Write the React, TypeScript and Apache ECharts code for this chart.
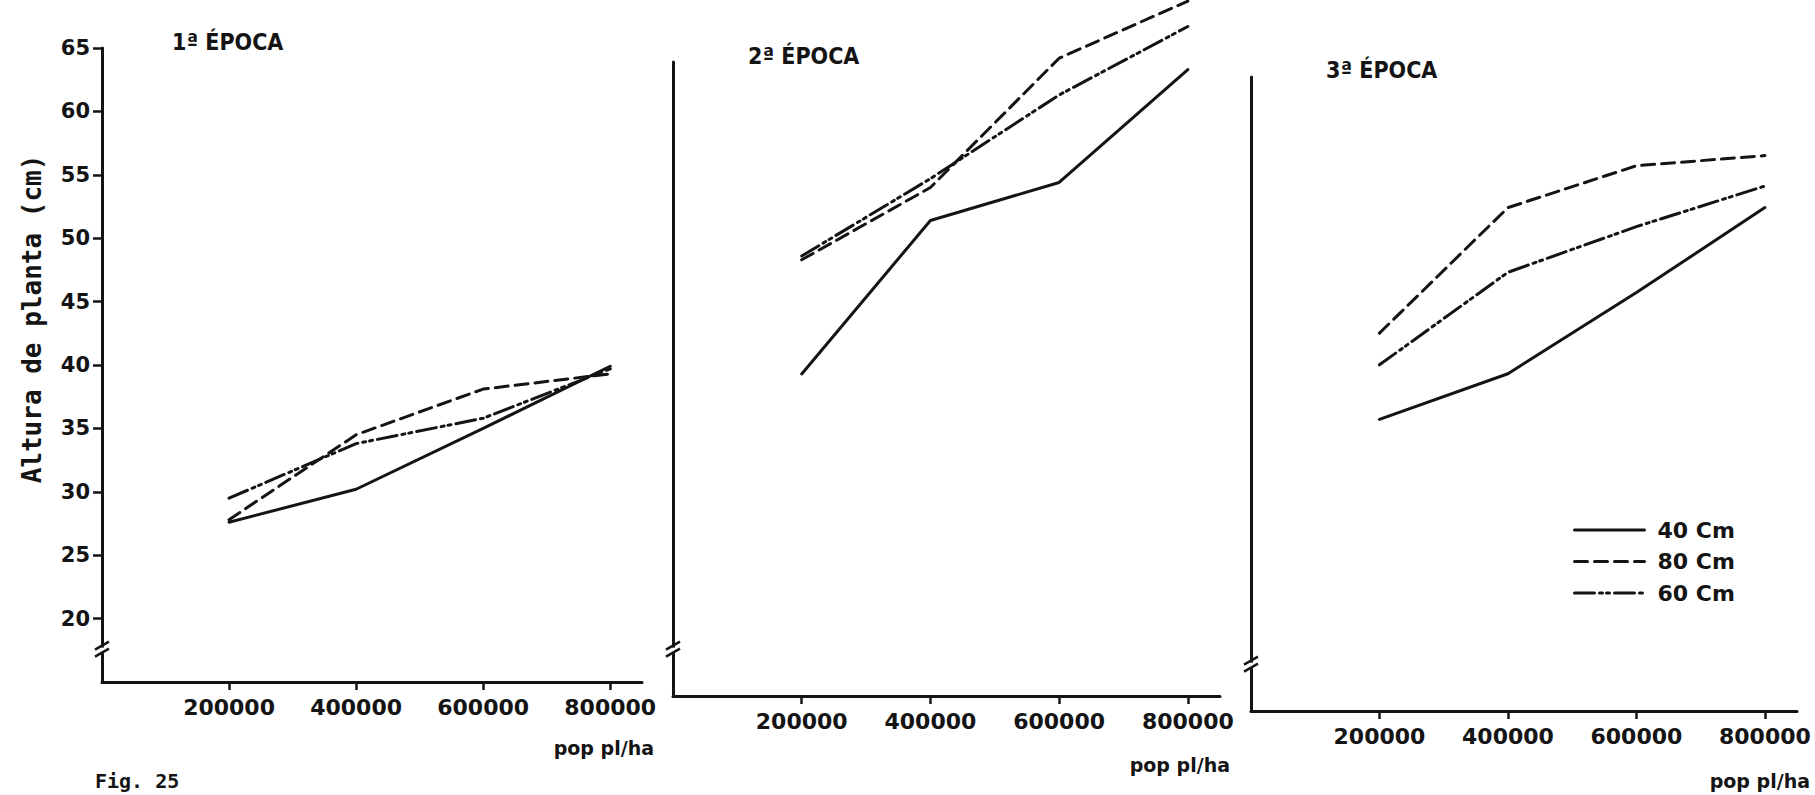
import React, { useEffect, useRef } from 'react';
import * as echarts from 'echarts';

// ---- data ----
const popDensity = [200000, 400000, 600000, 800000];
const xTickValues = [200000, 400000, 600000, 800000];
const yTickValues = [20, 25, 30, 35, 40, 45, 50, 55, 60, 65];
const seriesNames = ['40 Cm', '80 Cm', '60 Cm'];
const panelTitles = ['1ª ÉPOCA', '2ª ÉPOCA', '3ª ÉPOCA'];
const yAxisTitle = 'Altura de planta (cm)';
const xAxisTitle = 'pop pl/ha';
const figureLabel = 'Fig. 25';

// Época 1
const epoca1_40cm = [27.6, 30.2, 35.0, 39.9];
const epoca1_80cm = [27.8, 34.5, 38.1, 39.3];
const epoca1_60cm = [29.5, 33.8, 35.8, 39.7];
// Época 2
const epoca2_40cm = [40.4, 52.5, 55.5, 64.4];
const epoca2_80cm = [49.4, 55.1, 65.3, 69.8];
const epoca2_60cm = [49.7, 55.8, 62.4, 67.8];
// Época 3
const epoca3_40cm = [38.0, 41.6, 48.0, 54.7];
const epoca3_80cm = [44.8, 54.7, 58.0, 58.8];
const epoca3_60cm = [42.3, 49.6, 53.2, 56.4];

const panels = [
  [epoca1_40cm, epoca1_80cm, epoca1_60cm],
  [epoca2_40cm, epoca2_80cm, epoca2_60cm],
  [epoca3_40cm, epoca3_80cm, epoca3_60cm],
];

// ---- layout / style ----
const INK = '#141414';
const FONT = "'DejaVu Sans', 'Liberation Sans', sans-serif";
const TITLE_FONT = "'DejaVu Sans Condensed', 'DejaVu Sans', sans-serif";
const grids = [
  { left: 102, top: 48, width: 540, height: 634 },
  { left: 673, top: 62, width: 547, height: 634 },
  { left: 1251, top: 77, width: 546, height: 634 },
];
const titlePos = [
  { left: 172, top: 30 },
  { left: 748, top: 44 },
  { left: 1326, top: 58 },
];
const popLabelPos = [
  { x: 654, y: 748 },
  { x: 1230, y: 765 },
  { x: 1810, y: 781 },
];
const breakValues = [17.4, 18.5, 18.5];
const lineTypes: any[] = ['solid', [13, 7], [20, 5, 3, 4, 3, 5]];

export default function App() {
  const ref = useRef<HTMLDivElement>(null);

  useEffect(() => {
    if (!ref.current) return;
    const chart = echarts.init(ref.current, undefined, { renderer: 'svg' });

    const xAxes = grids.map((_, i) => ({
      type: 'value',
      gridIndex: i,
      min: 0,
      max: 850000,
      interval: 200000,
      axisLine: { show: true, onZero: false, lineStyle: { color: INK, width: 3 } },
      axisTick: {
        show: true,
        customValues: xTickValues,
        length: 8,
        lineStyle: { color: INK, width: 2.5 },
      },
      axisLabel: {
        customValues: xTickValues,
        margin: 14,
        color: INK,
        fontSize: 22,
        fontWeight: 'bold',
        fontFamily: FONT,
        formatter: (v: number) => (xTickValues.includes(v) ? String(v) : ''),
      },
      splitLine: { show: false },
    }));

    const yAxes = grids.map((_, i) => ({
      type: 'value',
      gridIndex: i,
      min: 15,
      max: 65,
      interval: 5,
      axisLine: { show: true, onZero: false, lineStyle: { color: INK, width: 3 } },
      axisTick: {
        show: i === 0,
        customValues: yTickValues,
        length: 9,
        lineStyle: { color: INK, width: 2.5 },
      },
      axisLabel: {
        show: i === 0,
        customValues: yTickValues,
        margin: 12,
        color: INK,
        fontSize: 21,
        fontWeight: 'bold',
        fontFamily: FONT,
        formatter: (v: number) => (yTickValues.includes(v) ? String(v) : ''),
      },
      splitLine: { show: false },
    }));

    const series: any[] = [];
    panels.forEach((vals, i) => {
      vals.forEach((arr, k) => {
        series.push({
          type: 'line',
          name: seriesNames[k],
          xAxisIndex: i,
          yAxisIndex: i,
          data: popDensity.map((x, j) => [x, arr[j]]),
          symbol: 'none',
          clip: false,
          silent: true,
          lineStyle: { color: INK, width: 3, type: lineTypes[k], cap: 'round' },
          itemStyle: { color: INK },
        });
      });
    });

    chart.setOption({
      animation: false,
      backgroundColor: '#ffffff',
      grid: grids.map((g) => ({ ...g, containLabel: false })),
      xAxis: xAxes,
      yAxis: yAxes,
      title: panelTitles.map((t, i) => ({
        text: t,
        left: titlePos[i].left,
        top: titlePos[i].top,
        padding: 0,
        textStyle: { color: INK, fontSize: 23, fontWeight: 'bold', fontFamily: TITLE_FONT },
      })),
      legend: {
        orient: 'vertical',
        left: 1573,
        top: 519,
        padding: 0,
        itemWidth: 70,
        itemHeight: 22,
        itemGap: 9.5,
        data: seriesNames,
        selectedMode: false,
        itemStyle: { opacity: 0, borderWidth: 0 },
        lineStyle: { width: 3, color: INK },
        textStyle: {
          color: INK,
          fontSize: 22,
          fontWeight: 'bold',
          fontFamily: FONT,
          padding: [0, 0, 0, 8],
          lineHeight: 22,
        },
      },
      series,
    });

    const graphic: any[] = [];
    // y axis title
    graphic.push({
      type: 'text',
      x: 32,
      y: 319,
      rotation: Math.PI / 2,
      style: {
        text: yAxisTitle,
        x: 0,
        y: 0,
        align: 'center',
        verticalAlign: 'middle',
        textAlign: 'center',
        textVerticalAlign: 'middle',
        font: "bold 26px 'DejaVu Sans Mono', monospace",
        fill: INK,
      },
    });
    // x axis names
    popLabelPos.forEach((p) => {
      graphic.push({
        type: 'text',
        x: p.x,
        y: p.y,
        style: {
          text: xAxisTitle,
          x: 0,
          y: 0,
          align: 'right',
          verticalAlign: 'middle',
          textAlign: 'right',
          textVerticalAlign: 'middle',
          font: `bold 19px ${FONT}`,
          fill: INK,
        },
      });
    });
    // figure label at the page bottom
    graphic.push({
      type: 'text',
      x: 95,
      y: 771,
      style: {
        text: figureLabel,
        x: 0,
        y: 0,
        align: 'left',
        verticalAlign: 'top',
        textAlign: 'left',
        textVerticalAlign: 'top',
        font: "bold 20px 'DejaVu Sans Mono', monospace",
        fill: INK,
      },
    });
    // axis break marks
    breakValues.forEach((v, i) => {
      const p = chart.convertToPixel({ xAxisIndex: i, yAxisIndex: i } as any, [0, v]) as number[];
      if (!p) return;
      const [px, py] = p;
      graphic.push({
        type: 'rect',
        shape: { x: px - 4, y: py - 4, width: 8, height: 5 },
        style: { fill: '#ffffff' },
        z: 10,
      });
      graphic.push({
        type: 'line',
        shape: { x1: px - 7, y1: py - 2, x2: px + 7, y2: py - 10 },
        style: { stroke: INK, lineWidth: 2.5 },
        z: 11,
      });
      graphic.push({
        type: 'line',
        shape: { x1: px - 7, y1: py + 5, x2: px + 7, y2: py - 3 },
        style: { stroke: INK, lineWidth: 2.5 },
        z: 11,
      });
    });

    chart.setOption({ graphic });

    return () => {
      chart.dispose();
    };
  }, []);

  return (
    <div
      ref={ref}
      style={{
        position: 'absolute',
        left: 0,
        top: 0,
        width: 1815,
        height: 795,
        background: '#ffffff',
      }}
    />
  );
}
